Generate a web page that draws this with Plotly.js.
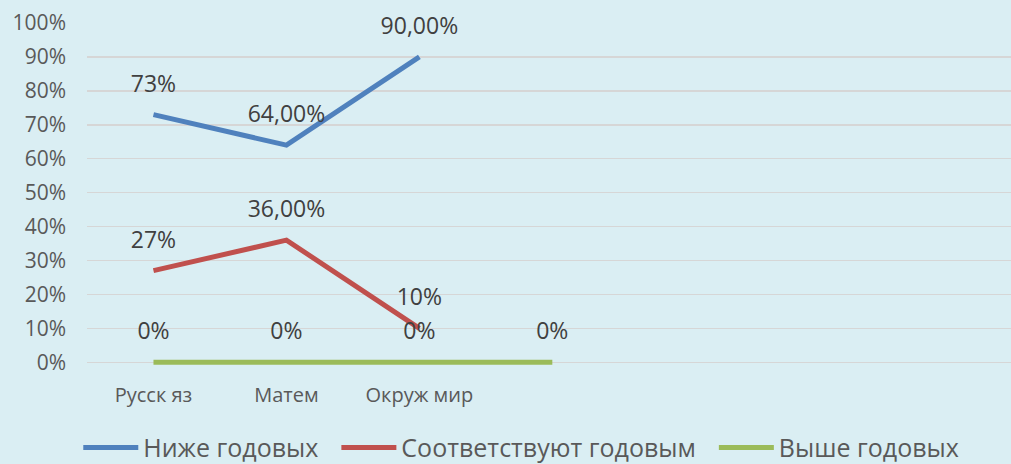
<!DOCTYPE html>
<html>
<head>
<meta charset="utf-8">
<script src="https://cdn.plot.ly/plotly-3.0.1.min.js"></script>
<style>
  html, body { margin: 0; padding: 0; background: #daeef3; }
  #plot { width: 1011px; height: 464px; }
</style>
</head>
<body>
<div id="plot"></div>
<script>
// categories (4th slot is unnamed, only the green series reaches it)
var categories = ["Русск яз", "Матем", "Окруж мир", ""];

var belowValues = [0.73, 0.64, 0.90];
var belowLabels = ["73%", "64,00%", "90,00%"];

var matchValues = [0.27, 0.36, 0.10];
var matchLabels = ["27%", "36,00%", "10%"];

var aboveValues = [0, 0, 0, 0];
var aboveLabels = ["0%", "0%", "0%", "0%"];

var xIdx = categories.map(function (c, i) { return i; });

var traces = [];

function addSeries(name, values, labels, color, pad) {
  var xs = xIdx.slice(0, values.length);
  // the line itself (shown in legend); nbsp pad widens the gap between entries
  traces.push({
    x: xs,
    y: values,
    name: name + pad,
    type: "scatter",
    mode: "lines",
    line: { color: color, width: 5 },
    hoverinfo: "skip"
  });
  // data labels, pushed up by an invisible marker
  traces.push({
    x: xs,
    y: values,
    text: labels,
    type: "scatter",
    mode: "markers+text",
    textposition: "top center",
    textfont: { family: "Open Sans", size: 23, color: "#404040" },
    marker: { size: 26, color: color, opacity: 0 },
    cliponaxis: false,
    showlegend: false,
    hoverinfo: "skip"
  });
}

addSeries("Ниже годовых", belowValues, belowLabels, "#4f81bd", "\u00a0\u00a0");
addSeries("Соответствуют годовым", matchValues, matchLabels, "#c0504d", "\u00a0\u00a0");
addSeries("Выше годовых", aboveValues, aboveLabels, "#9bbb59", "");

var layout = {
  width: 1011,
  height: 464,
  paper_bgcolor: "#daeef3",
  plot_bgcolor: "#daeef3",
  margin: { l: 87, r: 0, t: 23, b: 99, autoexpand: false },
  font: { family: "Open Sans", color: "#595959" },
  showlegend: true,
  legend: {
    orientation: "h",
    x: 0.47,
    xanchor: "center",
    y: -0.175,
    yanchor: "top",
    font: { size: 25, color: "#595959" },
    itemwidth: 55,
    bgcolor: "rgba(0,0,0,0)"
  },
  xaxis: {
    range: [-0.5, 6.45],
    tickvals: xIdx,
    ticktext: categories,
    showgrid: false,
    zeroline: false,
    showline: false,
    ticks: "",
    automargin: false,
    ticklabelstandoff: 16,
    tickfont: { size: 20, color: "#595959" },
    fixedrange: true
  },
  yaxis: {
    // a hair below 0 so the zero line is not clipped by the plot edge
    range: [-0.008, 1],
    tickvals: [0, 0.1, 0.2, 0.3, 0.4, 0.5, 0.6, 0.7, 0.8, 0.9, 1],
    tickformat: ".0%",
    showgrid: true,
    gridcolor: "#d6d6d6",
    gridwidth: 1.5,
    zeroline: false,
    showline: false,
    ticks: "",
    automargin: false,
    ticklabelstandoff: 20,
    tickfont: { size: 21, color: "#595959" },
    fixedrange: true
  }
};

Plotly.newPlot("plot", traces, layout, { displayModeBar: false, staticPlot: true });
</script>
</body>
</html>
